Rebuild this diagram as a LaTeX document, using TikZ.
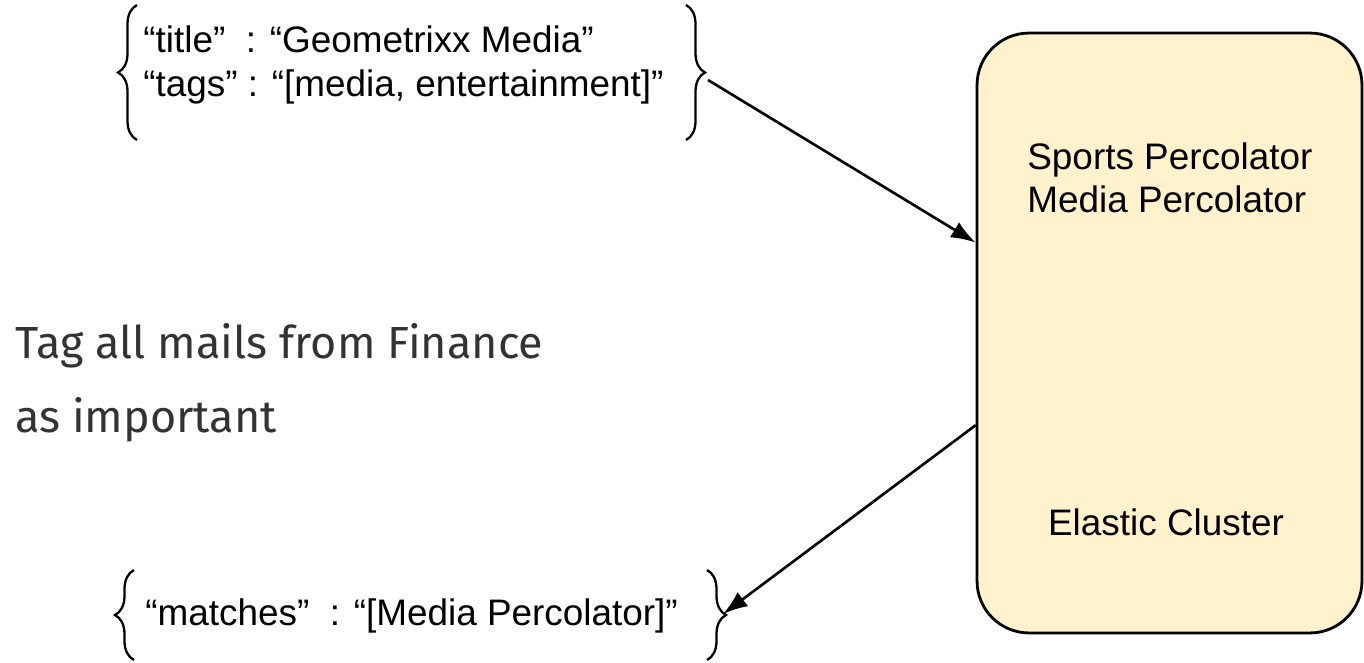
\documentclass[tikz,border=0pt]{standalone}
\usepackage{fontspec}
\setmainfont{Liberation Sans}
\newfontfamily\notefont{Fira Sans}
\usepackage{tikz}
\usetikzlibrary{arrows.meta,calc}
\usetikzlibrary{decorations,decorations.pathreplacing}
\definecolor{clusterfill}{HTML}{FFF2CC}
\definecolor{notegray}{HTML}{333333}
\tikzstyle{json}=[anchor=base west,inner sep=0pt,font=\fontsize{21}{25}\selectfont]
\tikzstyle{note}=[anchor=base west,inner sep=0pt,text=notegray,font=\notefont\fontsize{25.6}{42}\selectfont]
\tikzstyle{curly}=[decorate,decoration={brace,amplitude=0.38cm},line width=1.3pt]
\tikzstyle{flow}=[line width=1.5pt,-{Latex[length=14pt,width=10pt]}]
\tikzstyle{cluster}=[draw,line width=1.6pt,fill=clusterfill,rounded corners=1.04cm,minimum width=7.7cm,minimum height=12cm]

\begin{document}
\begin{tikzpicture}[x=0.02cm,y=-0.02cm]
	\useasboundingbox (0,0) rectangle (1364,662);
	\node[cluster] (cluster) at (1169.5,333) {};
	\node[json] (sports) at (1027,170) {Sports Percolator};
	\node[json] (media) at (1027,213) {Media Percolator};
	\node[json,anchor=base] (elastic) at (1166,535) {Elastic Cluster};
	\node[json] (title) at (143,53) {``title''~~: ``Geometrixx Media''};
	\node[json] (tags) at (143,97) {``tags'' : ``[media, entertainment]''};
	\node[json] (matches) at (145,625) {``matches''~~: ``[Media Percolator]''};
	\node[note] (tagline) at (15,358) {Tag all mails from Finance};
	\node[note] (impline) at (15,432) {as important};
	\draw[curly] (137,140) -- (137,5);
	\draw[curly] (686,5) -- (686,140);
	\draw[curly] (134,660) -- (134,570);
	\draw[curly] (707,570) -- (707,660);
	\coordinate (doctip) at (708,80);
	\coordinate (matchtip) at (723,614);
	\coordinate (clusterin) at ($(cluster.north west)!0.35!(cluster.south west)$);
	\coordinate (clusterout) at ($(cluster.north west)!0.653!(cluster.south west)$);
	\draw[flow] (doctip) -- (clusterin);
	\draw[flow] (clusterout) -- (matchtip);
\end{tikzpicture}
\end{document}
